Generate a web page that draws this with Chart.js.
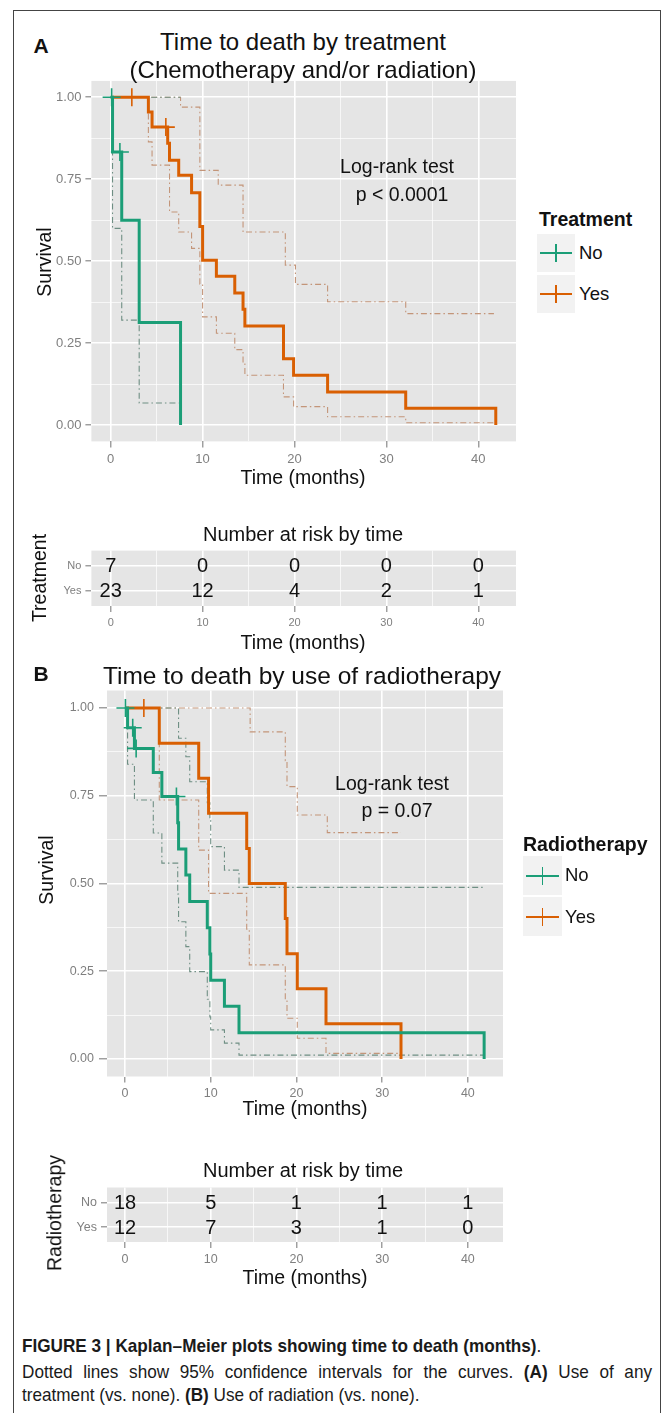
<!DOCTYPE html>
<html>
<head>
<meta charset="utf-8">
<script src="https://cdn.jsdelivr.net/npm/chart.js@4.4.1/dist/chart.umd.min.js"></script>
<style>
html,body{margin:0;padding:0;background:#fff;}
body{width:671px;height:1413px;position:relative;overflow:hidden;font-family:"Liberation Sans",Arial,Helvetica,sans-serif;color:#111;}
.t{position:absolute;white-space:nowrap;transform:translate(-50%,-50%);line-height:1;}
.l{position:absolute;white-space:nowrap;transform:translate(0,-50%);line-height:1;}
.rot{position:absolute;white-space:nowrap;transform:translate(-50%,-50%) rotate(-90deg);line-height:1;}
canvas{position:absolute;}
#frame{position:absolute;left:13px;top:10px;width:648px;height:1440px;border:1.5px solid #444;box-sizing:border-box;}
.key{position:absolute;background:#F2F2F2;}
.kh{position:absolute;left:3px;right:3px;top:50%;height:2px;margin-top:-1px;}
.kv{position:absolute;left:50%;width:1.6px;margin-left:-0.8px;top:50%;height:18px;margin-top:-9px;}
.cap{position:absolute;left:22px;white-space:nowrap;font-size:18.5px;line-height:1;transform-origin:0 50%;color:#1a1a1a;}
</style>
</head>
<body>
<div id="frame"></div>

<canvas id="plotA" width="530" height="420" style="left:0;top:60px;"></canvas>
<canvas id="riskA" width="530" height="95" style="left:0;top:540px;"></canvas>
<canvas id="plotB" width="530" height="450" style="left:0;top:670px;"></canvas>
<canvas id="riskB" width="530" height="100" style="left:0;top:1176px;"></canvas>

<!-- Panel A texts -->
<div class="t" style="left:41px;top:45px;font-size:21px;font-weight:bold;">A</div>
<div class="t" style="left:303px;top:42px;font-size:24px;">Time to death by treatment</div>
<div class="t" style="left:303px;top:70px;font-size:24px;">(Chemotherapy and/or radiation)</div>
<div class="rot" style="left:45px;top:262px;font-size:19.5px;">Survival</div>
<div class="t" style="left:303px;top:478px;font-size:19.5px;">Time (months)</div>
<div class="t" style="left:397px;top:167px;font-size:19.5px;">Log-rank test</div>
<div class="t" style="left:402px;top:195px;font-size:19.5px;">p &lt; 0.0001</div>
<div class="l" style="left:539px;top:220px;font-size:19.5px;font-weight:bold;">Treatment</div>
<div class="key" style="left:537px;top:234px;width:38px;height:38px;"><div class="kh" style="background:#1B9E77"></div><div class="kv" style="background:#1B9E77"></div></div>
<div class="key" style="left:537px;top:275px;width:38px;height:38px;"><div class="kh" style="background:#D95F02"></div><div class="kv" style="background:#D95F02"></div></div>
<div class="l" style="left:579px;top:253px;font-size:18.5px;">No</div>
<div class="l" style="left:579px;top:294px;font-size:18.5px;">Yes</div>

<div class="t" style="left:303px;top:534px;font-size:20px;">Number at risk by time</div>
<div class="rot" style="left:40px;top:578px;font-size:19.5px;">Treatment</div>
<div class="t" style="left:303px;top:643px;font-size:19.5px;">Time (months)</div>

<!-- Panel B texts -->
<div class="t" style="left:41px;top:673px;font-size:21px;font-weight:bold;">B</div>
<div class="t" style="left:302px;top:676px;font-size:24.5px;">Time to death by use of radiotherapy</div>
<div class="rot" style="left:47px;top:870px;font-size:19.5px;">Survival</div>
<div class="t" style="left:305px;top:1109px;font-size:19.5px;">Time (months)</div>
<div class="t" style="left:392px;top:784px;font-size:19.5px;">Log-rank test</div>
<div class="t" style="left:397px;top:811px;font-size:19.5px;">p = 0.07</div>
<div class="l" style="left:523px;top:845px;font-size:19.5px;font-weight:bold;">Radiotherapy</div>
<div class="key" style="left:523px;top:856px;width:39px;height:39px;"><div class="kh" style="background:#1B9E77"></div><div class="kv" style="background:#1B9E77"></div></div>
<div class="key" style="left:523px;top:897px;width:39px;height:39px;"><div class="kh" style="background:#D95F02"></div><div class="kv" style="background:#D95F02"></div></div>
<div class="l" style="left:565px;top:875px;font-size:18.5px;">No</div>
<div class="l" style="left:565px;top:917px;font-size:18.5px;">Yes</div>

<div class="t" style="left:303px;top:1170px;font-size:20px;">Number at risk by time</div>
<div class="rot" style="left:55px;top:1213px;font-size:19.5px;">Radiotherapy</div>
<div class="t" style="left:305px;top:1278px;font-size:19.5px;">Time (months)</div>

<!-- Caption -->
<div class="cap" id="cap1" style="top:1346px;"><b>FIGURE 3 | Kaplan–Meier plots showing time to death (months)</b>.</div>
<div class="cap" id="cap2" style="top:1372px;">Dotted lines show 95% confidence intervals for the curves. <b>(A)</b> Use of any</div>
<div class="cap" id="cap3" style="top:1395px;">treatment (vs. none). <b>(B)</b> Use of radiation (vs. none).</div>

<script>
// ---------------- DATA ----------------
const xTickValues = [0, 10, 20, 30, 40];
const xMinorValues = [5, 15, 25, 35];
const yTickValues = [0, 0.25, 0.5, 0.75, 1];
const yMinorValues = [0.125, 0.375, 0.625, 0.875];
const groupLabels = ['No', 'Yes'];

// Panel A: any treatment
const aNoTime  = [0, 0.2, 1.2, 3.1, 7.6];
const aNoSurv  = [1, 0.833, 0.625, 0.3125, 0];
const aNoUpTime = [0, 7.6];
const aNoUp     = [1, 1];
const aNoLoTime = [0, 0.2, 1.2, 3.1, 7.4];
const aNoLo     = [1, 0.60, 0.32, 0.067, 0.067];
const aNoCensTime = [0.1, 1.0];
const aNoCensSurv = [1, 0.833];

const aYesTime = [0, 4.1, 4.5, 6.2, 6.4, 7.4, 8.8, 9.7, 10.0, 11.5, 13.5, 14.4, 14.6, 18.8, 19.9, 23.6, 32.1, 41.9];
const aYesSurv = [1, 0.955, 0.909, 0.860, 0.808, 0.762, 0.709, 0.606, 0.503, 0.454, 0.403, 0.353, 0.302, 0.202, 0.152, 0.101, 0.051, 0];
const aYesUpTime = [0, 7.6, 9.7, 11.7, 14.4, 19.0, 20.1, 23.6, 32.1, 41.7];
const aYesUp     = [1, 0.970, 0.777, 0.732, 0.589, 0.488, 0.429, 0.376, 0.340, 0.340];
const aYesLoTime = [0, 4.1, 4.5, 6.4, 7.4, 8.8, 9.7, 10.0, 11.5, 13.5, 14.4, 14.6, 18.8, 19.9, 23.6, 32.1, 41.9];
const aYesLo     = [1, 0.864, 0.793, 0.650, 0.589, 0.539, 0.43, 0.33, 0.28, 0.23, 0.19, 0.152, 0.086, 0.056, 0.025, 0.007, 0.007];
const aYesCensTime = [2.3, 6.0];
const aYesCensSurv = [1, 0.909];

// Panel B: radiotherapy
const bNoTime = [0, 0.3, 1.1, 3.3, 4.3, 6.15, 6.25, 7.1, 7.55, 9.6, 9.9, 10.0, 11.6, 13.3, 41.9];
const bNoSurv = [1, 0.944, 0.885, 0.816, 0.748, 0.673, 0.598, 0.524, 0.449, 0.374, 0.299, 0.224, 0.150, 0.075, 0];
const bNoUpTime = [0, 6.25, 7.1, 7.55, 9.6, 9.9, 10.0, 11.6, 13.3, 41.9];
const bNoUp     = [1, 0.914, 0.861, 0.79, 0.73, 0.68, 0.605, 0.538, 0.489, 0.489];
const bNoLoTime = [0, 0.3, 1.1, 3.3, 4.3, 6.15, 6.25, 7.1, 7.55, 9.6, 9.9, 10.0, 11.6, 13.3, 41.9];
const bNoLo     = [1, 0.84, 0.738, 0.644, 0.558, 0.47, 0.391, 0.32, 0.249, 0.17, 0.12, 0.083, 0.045, 0.011, 0.011];
const bNoCensTime = [0.05, 0.9, 1.3, 6.0];
const bNoCensSurv = [1, 0.944, 0.885, 0.748];

const bYesTime = [0, 4.0, 8.6, 9.75, 14.2, 14.5, 18.7, 18.9, 20.1, 23.45, 32.2];
const bYesSurv = [1, 0.9, 0.8, 0.7, 0.6, 0.5, 0.4, 0.3, 0.2, 0.1, 0];
const bYesUpTime = [0, 14.6, 18.7, 18.9, 20.1, 23.6, 32.2];
const bYesUp     = [1, 0.932, 0.85, 0.776, 0.695, 0.645, 0.645];
const bYesLoTime = [0, 4.0, 8.6, 9.75, 14.2, 14.5, 18.7, 18.9, 20.1, 23.45, 32.2];
const bYesLo     = [1, 0.738, 0.595, 0.472, 0.37, 0.268, 0.17, 0.116, 0.059, 0.016, 0.016];
const bYesCensTime = [2.2];
const bYesCensSurv = [1];

// Numbers at risk
const riskTimes = [0, 10, 20, 30, 40];
const riskTreatNo  = [7, 0, 0, 0, 0];
const riskTreatYes = [23, 12, 4, 2, 1];
const riskRadioNo  = [18, 5, 1, 1, 1];
const riskRadioYes = [12, 7, 3, 1, 0];

// ---------------- STYLE ----------------
const GREEN = '#1B9E77', ORANGE = '#D95F02';
const GREEN_CI = '#6f8f84', ORANGE_CI = '#c39579';
const TICK_COLOR = '#7f7f7f';
const X_MIN = -2.1, X_MAX = 44.1;
Chart.defaults.font.family = '"Liberation Sans", Arial, sans-serif';

const pts = (xs, ys) => xs.map((x, i) => ({x: x, y: ys[i]}));
const near = (v, arr) => arr.some(a => Math.abs(a - v) < 1e-9);

const bgPlugin = {
  id: 'panelBg',
  beforeDraw(chart) {
    const a = chart.chartArea, c = chart.ctx;
    c.save(); c.fillStyle = '#E5E5E5';
    c.fillRect(a.left, a.top, a.right - a.left, a.bottom - a.top);
    c.restore();
  }
};

function xAxis(fontSize, height) {
  return {
    type: 'linear', min: X_MIN, max: X_MAX,
    afterBuildTicks: s => { s.ticks = xTickValues.concat(xMinorValues).sort((a,b)=>a-b).map(v => ({value: v})); },
    afterFit: s => { s.height = height; },
    ticks: { autoSkip: false, maxRotation: 0, color: TICK_COLOR, font: {size: fontSize}, padding: 4,
      callback: v => near(v, xTickValues) ? String(v) : '' },
    grid: {
      color: '#ffffff',
      lineWidth: c => (c.tick && near(c.tick.value, xTickValues)) ? 1.6 : 0.7,
      tickColor: c => (c.tick && near(c.tick.value, xTickValues)) ? TICK_COLOR : 'rgba(0,0,0,0)',
      tickWidth: 1.1, tickLength: 6
    },
    border: { display: false }
  };
}

function ciSet(xs, ys, color) {
  return { data: pts(xs, ys), showLine: true, stepped: 'before', borderColor: color, borderWidth: 1.1,
    borderDash: [6, 3, 1.5, 3], pointRadius: 0, fill: false, order: 3 };
}
function curveSet(xs, ys, color) {
  return { data: pts(xs, ys), showLine: true, stepped: 'before', borderColor: color, borderWidth: 3,
    borderJoinStyle: 'miter', pointRadius: 0, fill: false, order: 2 };
}
function censSet(xs, ys, color) {
  return { data: pts(xs, ys), showLine: false, pointStyle: 'cross', pointRadius: 9,
    pointBorderWidth: 1.6, borderColor: color, backgroundColor: color, order: 1 };
}

function kmChart(id, datasets, geo) {
  return new Chart(document.getElementById(id), {
    type: 'scatter',
    data: { datasets: datasets },
    options: {
      responsive: false, animation: false, devicePixelRatio: 1, events: [],
      layout: { padding: { top: geo.top, right: geo.right, bottom: 0, left: 0 } },
      plugins: { legend: { display: false }, tooltip: { enabled: false } },
      scales: {
        x: xAxis(geo.tickFont, geo.xH),
        y: {
          type: 'linear', min: -0.05, max: 1.05,
          afterBuildTicks: s => { s.ticks = yTickValues.concat(yMinorValues).sort((a,b)=>a-b).map(v => ({value: v})); },
          afterFit: s => { s.width = geo.yW; },
          ticks: { autoSkip: false, color: TICK_COLOR, font: {size: geo.tickFont}, padding: geo.yPad,
            callback: v => near(v, yTickValues) ? v.toFixed(2) : '' },
          grid: {
            color: '#ffffff',
            lineWidth: c => (c.tick && near(c.tick.value, yTickValues)) ? 1.6 : 0.7,
            tickColor: c => (c.tick && near(c.tick.value, yTickValues)) ? TICK_COLOR : 'rgba(0,0,0,0)',
            tickWidth: 1.1, tickLength: geo.yTick
          },
          border: { display: false }
        }
      }
    },
    plugins: [bgPlugin]
  });
}

function riskChart(id, rows, geo) {
  const riskPlugin = {
    id: 'riskText',
    afterDatasetsDraw(chart) {
      const xs = chart.scales.x, ys = chart.scales.y, c = chart.ctx;
      c.save();
      c.font = '20px "Liberation Sans", Arial, sans-serif';
      c.fillStyle = '#111'; c.textAlign = 'center'; c.textBaseline = 'middle';
      rows.forEach((row, r) => {
        row.forEach((n, i) => c.fillText(String(n), xs.getPixelForValue(riskTimes[i]), ys.getPixelForValue(r + 1) + 1));
      });
      c.restore();
    }
  };
  const cells = [];
  rows.forEach((row, r) => row.forEach((n, i) => cells.push({x: riskTimes[i], y: r + 1})));
  return new Chart(document.getElementById(id), {
    type: 'scatter',
    data: { datasets: [{ data: cells, pointRadius: 0 }] },
    options: {
      responsive: false, animation: false, devicePixelRatio: 1, events: [],
      layout: { padding: { top: geo.top, right: geo.right, bottom: 0, left: 0 } },
      plugins: { legend: { display: false }, tooltip: { enabled: false } },
      scales: {
        x: xAxis(geo.tickFont, geo.xH),
        y: {
          type: 'linear', min: 0.4, max: 2.6, reverse: true,
          afterBuildTicks: s => { s.ticks = [{value: 1}, {value: 2}]; },
          afterFit: s => { s.width = geo.yW; },
          ticks: { autoSkip: false, color: TICK_COLOR, font: {size: geo.tickFont}, padding: 4,
            callback: v => groupLabels[Math.round(v) - 1] },
          grid: { color: '#ffffff', lineWidth: 1.6, tickColor: TICK_COLOR, tickWidth: 1.1, tickLength: 6 },
          border: { display: false }
        }
      }
    },
    plugins: [bgPlugin, riskPlugin]
  });
}

kmChart('plotA', [
  ciSet(aNoUpTime, aNoUp, GREEN_CI), ciSet(aNoLoTime, aNoLo, GREEN_CI),
  ciSet(aYesUpTime, aYesUp, ORANGE_CI), ciSet(aYesLoTime, aYesLo, ORANGE_CI),
  curveSet(aNoTime, aNoSurv, GREEN), curveSet(aYesTime, aYesSurv, ORANGE),
  censSet(aNoCensTime, aNoCensSurv, GREEN), censSet(aYesCensTime, aYesCensSurv, ORANGE)
], { top: 20.9, right: 14, yW: 91.4, xH: 38.6, tickFont: 13, yTick: 6, yPad: 4 });

riskChart('riskA', [riskTreatNo, riskTreatYes], { top: 4, right: 14, yW: 91.4, xH: 29, tickFont: 11 });

kmChart('plotB', [
  ciSet(bNoUpTime, bNoUp, GREEN_CI), ciSet(bNoLoTime, bNoLo, GREEN_CI),
  ciSet(bYesUpTime, bYesUp, ORANGE_CI), ciSet(bYesLoTime, bYesLo, ORANGE_CI),
  curveSet(bNoTime, bNoSurv, GREEN), curveSet(bYesTime, bYesSurv, ORANGE),
  censSet(bNoCensTime, bNoCensSurv, GREEN), censSet(bYesCensTime, bYesCensSurv, ORANGE)
], { top: 20.5, right: 27, yW: 107, xH: 43.5, tickFont: 12.5, yTick: 8, yPad: 5 });

riskChart('riskB', [riskRadioNo, riskRadioYes], { top: 4, right: 27, yW: 107, xH: 34, tickFont: 12.5 });

// condensed, justified caption: one horizontal squeeze taken from the unjustified lines 1 and 3,
// line 2 is then justified to the full column width with extra word spacing.
(function () {
  const c1 = document.getElementById('cap1'), c2 = document.getElementById('cap2'), c3 = document.getElementById('cap3');
  const w1 = c1.getBoundingClientRect().width, w3 = c3.getBoundingClientRect().width;
  const k = (567 / w1 + 361 / w3) / 2;
  const w2 = c2.getBoundingClientRect().width;
  const spaces = (c2.textContent.match(/ /g) || []).length;
  const extra = (630 / k - w2) / spaces;
  c2.style.wordSpacing = extra.toFixed(3) + 'px';
  [c1, c2, c3].forEach(el => { el.style.transform = 'translate(0,-50%) scaleX(' + k.toFixed(4) + ')'; });
})();
</script>
</body>
</html>
